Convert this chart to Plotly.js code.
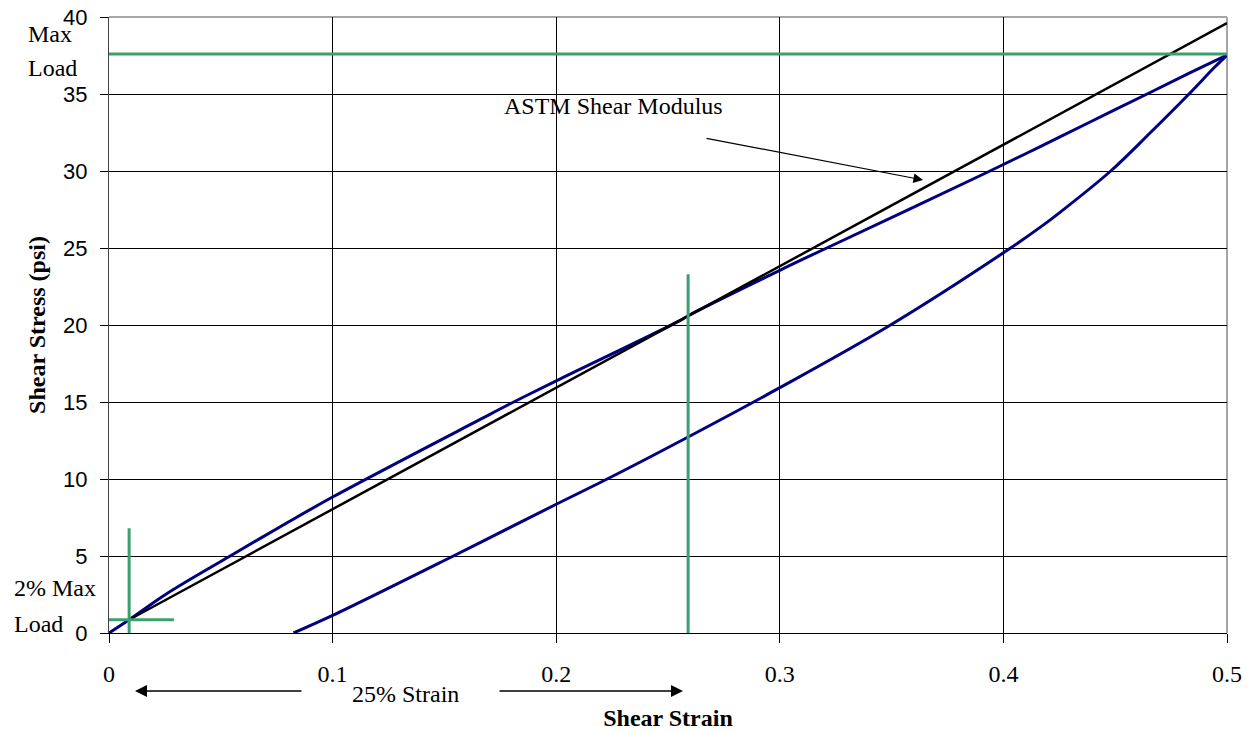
<!DOCTYPE html>
<html>
<head>
<meta charset="utf-8">
<script src="https://cdn.plot.ly/plotly-3.0.1.min.js"></script>
<style>
  html, body { margin: 0; padding: 0; background: #fff; }
  #chart { width: 1249px; height: 731px; }
</style>
</head>
<body>
<div id="chart"></div>
<script>
// ---- Data ----
// Loading branch of the shear stress–strain curve
const loadStrain = [0, 0.009, 0.0258, 0.0542, 0.0766, 0.1, 0.166, 0.181, 0.2, 0.2555, 0.259, 0.3, 0.321, 0.394, 0.4167, 0.439, 0.4636, 0.4838, 0.5];
const loadStress = [0, 0.86, 2.55, 5.0, 6.9, 8.83, 13.87, 15.0, 16.37, 20.3, 20.6, 23.55, 25.0, 30.0, 31.6, 33.2, 34.95, 36.4, 37.53];
// Unloading branch
const unloadStrain = [0.5, 0.4942, 0.483, 0.4658, 0.448, 0.4256, 0.4167, 0.4032, 0.3495, 0.3, 0.259, 0.2228, 0.2, 0.154, 0.1, 0.0825];
const unloadStress = [37.53, 36.7, 35.0, 32.5, 30.0, 27.35, 26.37, 25.0, 20.0, 15.93, 12.73, 10.0, 8.36, 5.0, 1.14, 0];
// ASTM shear modulus line
const modulusStrain = [0.009, 0.5];
const modulusStress = [0.86, 39.6];
// Reference markers
const maxLoad = 37.6;
const maxLoadStrain = [0, 0.5];
const twoPctStrain = 0.009;
const twoPctLoad = 0.86;
const twoPctVertStress = [-0.4, 6.8];
const twoPctHorizStrain = [0, 0.029];
const strain25 = 0.259;
const strain25Stress = [-0.4, 23.3];
// Axis ticks
const xTicks = [0, 0.1, 0.2, 0.3, 0.4, 0.5];
const xTickText = ['0', '0.1', '0.2', '0.3', '0.4', '0.5'];
const yTicks = [0, 5, 10, 15, 20, 25, 30, 35, 40];

// ---- Layout helpers (pixel -> paper) ----
const W = 1249, H = 731;
const M = {l: 109, r: 22, t: 17, b: 98};
const PW = W - M.l - M.r, PH = H - M.t - M.b;
const px = x => (x - M.l) / PW;
const py = y => (M.t + PH - y) / PH;

const BLUE = '#000080';
const GREEN = '#3c9f6e';
const serif = 'Liberation Serif, Times New Roman, serif';
const sans = 'Liberation Sans, Arial, sans-serif';

const traces = [
  {x: loadStrain, y: loadStress, mode: 'lines', line: {color: BLUE, width: 3, shape: 'spline', smoothing: 1}},
  {x: unloadStrain, y: unloadStress, mode: 'lines', line: {color: BLUE, width: 3, shape: 'spline', smoothing: 1}},
  {x: modulusStrain, y: modulusStress, mode: 'lines', line: {color: '#000', width: 2.5}},
  {x: maxLoadStrain, y: [maxLoad, maxLoad], mode: 'lines', line: {color: GREEN, width: 3}},
  {x: [twoPctStrain, twoPctStrain], y: twoPctVertStress, mode: 'lines', line: {color: GREEN, width: 3}},
  {x: twoPctHorizStrain, y: [twoPctLoad, twoPctLoad], mode: 'lines', line: {color: GREEN, width: 3}},
  {x: [strain25, strain25], y: strain25Stress, mode: 'lines', line: {color: GREEN, width: 3}}
];

const txt = (t, x, y, xa) => ({
  text: t, xref: 'paper', yref: 'paper', x: px(x), y: py(y),
  xanchor: xa || 'left', yanchor: 'middle', showarrow: false,
  font: {family: serif, size: 24, color: '#000'}
});
const arrow = (tipX, tipY, tailX, tailY, w) => ({
  text: '', xref: 'paper', yref: 'paper', x: px(tipX), y: py(tipY),
  ax: tailX - tipX, ay: tailY - tipY, showarrow: true,
  arrowhead: 2, arrowsize: 1.6, arrowwidth: w, arrowcolor: '#000', standoff: 0
});

const layout = {
  width: W, height: H,
  margin: M,
  paper_bgcolor: '#fff', plot_bgcolor: '#fff',
  showlegend: false, hovermode: false,
  xaxis: {
    range: [0, 0.5], tickvals: xTicks, ticktext: xTickText,
    showgrid: true, gridcolor: '#000', gridwidth: 1, zeroline: false,
    showline: true, linecolor: '#000', linewidth: 1,
    ticks: 'outside', ticklen: 9, tickcolor: '#000', tickwidth: 1,
    ticklabelstandoff: 10,
    tickfont: {family: serif, size: 24, color: '#000'},
    title: {text: 'Shear Strain', standoff: 24, font: {family: serif, size: 24, color: '#000', weight: 'bold'}}
  },
  yaxis: {
    range: [0, 40], tickvals: yTicks,
    showgrid: true, gridcolor: '#000', gridwidth: 1, zeroline: false,
    showline: true, linecolor: '#444', linewidth: 1,
    ticks: 'outside', ticklen: 8, tickcolor: '#000', tickwidth: 1,
    ticklabelstandoff: 8,
    tickfont: {family: sans, size: 22, color: '#000'},
    title: {text: 'Shear Stress (psi)', standoff: 10, font: {family: serif, size: 24, color: '#000', weight: 'bold'}}
  },
  shapes: [
    {type: 'line', xref: 'paper', yref: 'paper', x0: 0, x1: 1, y0: 1, y1: 1, layer: 'between', line: {color: '#a6a6a6', width: 2}},
    {type: 'line', xref: 'paper', yref: 'paper', x0: 1, x1: 1, y0: 0, y1: 1, layer: 'between', line: {color: '#a6a6a6', width: 2}}
  ],
  annotations: [
    txt('Max', 26, 34),
    txt('Load', 26, 68),
    txt('2% Max', 12, 588),
    txt('Load', 12, 624),
    txt('25% Strain', 405, 694, 'center'),
    txt('ASTM Shear Modulus', 502, 106),
    arrow(135, 691, 303, 691, 1.5),
    arrow(683, 691, 498, 691, 1.5),
    arrow(923, 180, 705, 138, 1.2)
  ]
};

Plotly.newPlot('chart', traces, layout, {displayModeBar: false, staticPlot: true});
</script>
</body>
</html>
